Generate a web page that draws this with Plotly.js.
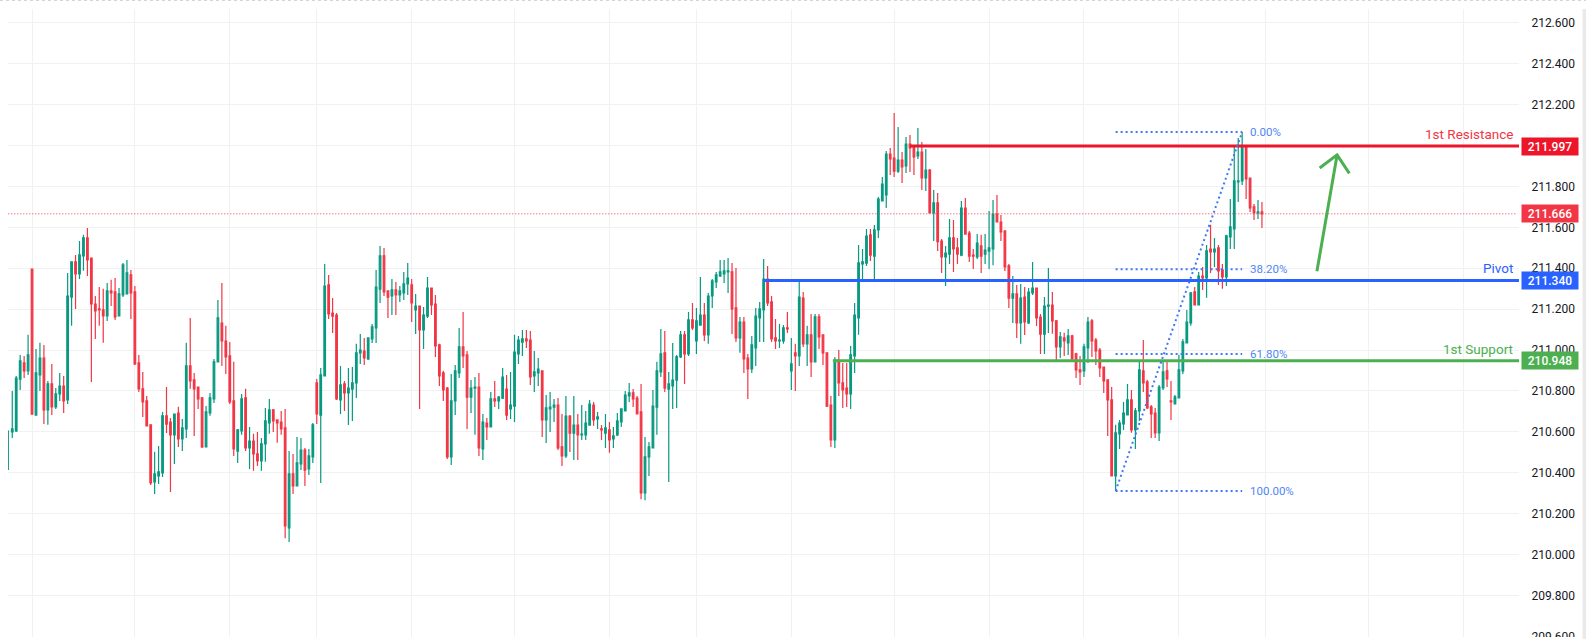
<!DOCTYPE html>
<html><head><meta charset="utf-8">
<script src="https://cdn.plot.ly/plotly-3.0.1.min.js"></script>
<style>html,body{margin:0;padding:0;background:#fff;overflow:hidden}#c{width:1586px;height:639px}</style>
</head><body><div id="c"></div>
<script>
// candle direction: G = up, R = down (rows of 10)
const direction = (
"GGGGRGRGGR"+"GRGGRGGRGG"+"RRRRRGRRGG"+"GRRRRRRGGG"+"RRGRGGRRRR"+"GGGGRRRRGG"+"RGRRGGGRRR"+"RGRGGRGGRG"+
"GRRRGRGGGG"+"RGGGGRRGRG"+"GGRGRGGRRR"+"RRGGGRRGGR"+"GRGRGGRGGG"+"GRRGGRGGGR"+"RGRGRGGGRG"+"RGRGGGGGRR"+
"RGGGGGRGGG"+"GRGRGGRGGG"+"GGGRRGRRGG"+"GGRRRGGRGR"+"GRGRGRRRRG"+"RRRGGGGGRG"+"GGGRRGRGRR"+"GRGRGRRGGR"+
"RGRRRGRGGG"+"RRRRGRGRGG"+"RRGGRRGRGR"+"RRGGRRRRRR"+"GGGGRGGRRR"+"RGGRRGGGGG"+"RGRGRGRRGG"+"GGGRRRGR").split("");

const high = [
210.604,210.800,210.873,210.976,210.971,211.074,211.396,211.005,211.035,211.025,
210.849,210.932,210.814,210.888,210.873,211.377,211.431,211.465,211.533,211.563,
211.597,211.450,211.264,211.308,211.299,211.328,211.343,211.352,211.303,211.426,
211.440,211.391,211.313,210.976,210.893,210.775,210.634,210.502,210.531,210.697,
210.819,210.668,210.687,210.722,210.663,211.035,211.157,210.888,210.819,210.770,
210.726,210.790,210.956,211.245,211.328,211.118,211.039,210.942,210.614,210.785,
210.810,210.624,210.590,210.599,210.570,210.717,210.761,210.712,210.658,210.702,
210.712,210.506,210.492,210.575,210.570,210.521,210.516,210.643,210.858,210.912,
211.421,211.367,211.254,211.181,210.922,210.849,210.912,210.917,211.030,211.078,
211.059,211.059,211.127,211.391,211.509,211.499,211.289,211.347,211.333,211.313,
211.382,211.426,211.347,211.274,211.215,211.210,211.357,211.303,211.269,211.030,
210.898,210.819,210.883,210.927,211.108,211.186,210.995,210.853,210.868,210.888,
210.687,210.668,210.795,210.849,210.775,210.912,210.878,210.893,211.074,211.069,
211.098,211.098,211.093,210.995,210.961,210.898,210.780,210.795,210.761,210.765,
210.687,210.775,210.682,210.775,210.687,210.731,210.702,210.756,210.746,210.697,
210.633,210.687,210.648,210.624,210.692,210.712,210.800,210.839,210.809,210.775,
210.834,210.575,210.550,210.805,210.942,211.103,211.093,210.893,211.034,210.976,
211.093,211.093,211.186,211.230,211.206,211.357,211.230,211.279,211.347,211.382,
211.440,211.440,211.450,211.426,211.401,211.162,211.162,210.981,211.069,211.206,
211.235,211.445,211.411,211.264,211.152,211.127,211.122,211.186,211.059,211.030,
211.342,211.284,211.118,211.176,211.176,211.176,211.074,210.986,210.775,210.966,
211.000,210.937,210.937,211.020,211.230,211.514,211.494,211.592,211.592,211.611,
211.748,211.846,211.973,211.988,212.159,212.091,211.968,212.042,212.051,212.002,
212.085,212.017,211.983,211.885,211.782,211.768,211.543,211.509,211.640,211.636,
211.548,211.729,211.743,211.582,211.494,211.567,211.563,211.567,211.680,211.734,
211.758,211.660,211.587,211.420,211.362,211.318,211.323,211.308,211.303,211.430,
211.303,211.176,211.259,211.401,211.284,211.147,211.088,211.084,211.103,211.074,
210.986,210.971,211.030,211.162,211.152,211.059,211.010,210.917,210.854,210.819,
210.634,210.658,210.746,210.834,210.805,210.717,210.951,211.049,210.854,210.731,
210.717,210.829,210.951,210.951,210.849,210.780,210.976,211.054,211.196,211.284,
211.308,211.382,211.406,211.514,211.612,211.548,211.514,211.421,211.563,211.739,
212.003,212.037,212.066,211.993,211.841,211.714,211.734,211.724];

const bodyTop = [
210.604,210.614,210.863,210.947,210.937,210.976,211.396,210.888,210.961,210.961,
210.834,210.834,210.785,210.824,210.824,211.264,211.431,211.431,211.465,211.548,
211.548,211.450,211.225,211.201,211.196,211.289,211.289,211.284,211.274,211.416,
211.377,211.367,211.284,210.937,210.810,210.751,210.634,210.394,210.404,210.678,
210.678,210.648,210.687,210.692,210.619,210.922,210.922,210.854,210.819,210.766,
210.697,210.766,210.942,211.157,211.132,211.044,210.971,210.751,210.609,210.761,
210.766,210.555,210.555,210.492,210.541,210.653,210.707,210.707,210.658,210.648,
210.619,210.394,210.394,210.448,210.511,210.511,210.482,210.634,210.839,210.878,
211.313,211.318,211.181,211.171,210.829,210.834,210.814,210.839,210.986,211.000,
210.995,211.059,211.113,211.308,211.460,211.460,211.289,211.294,211.294,211.289,
211.323,211.352,211.318,211.215,211.215,211.171,211.303,211.303,211.225,211.025,
210.888,210.814,210.751,210.898,211.015,211.015,210.976,210.814,210.819,210.819,
210.648,210.643,210.761,210.761,210.770,210.868,210.809,210.731,210.990,211.049,
211.054,211.054,211.049,210.893,210.907,210.898,210.717,210.721,210.731,210.731,
210.526,210.677,210.677,210.633,210.633,210.589,210.643,210.736,210.731,210.673,
210.614,210.619,210.609,210.580,210.653,210.712,210.780,210.790,210.790,210.765,
210.697,210.477,210.526,210.726,210.898,210.981,210.986,210.834,210.853,210.966,
211.074,211.074,211.147,211.147,211.142,211.171,211.171,211.264,211.338,211.367,
211.382,211.387,211.387,211.382,211.206,211.137,211.137,210.961,211.025,211.166,
211.201,211.347,211.347,211.235,211.059,211.049,211.108,211.108,210.932,210.986,
211.259,211.254,211.074,211.074,211.162,211.162,211.074,210.986,210.731,210.951,
210.951,210.839,210.814,210.976,211.171,211.426,211.431,211.557,211.563,211.587,
211.738,211.811,211.958,211.958,211.939,211.929,211.929,212.007,212.007,211.993,
211.968,211.968,211.880,211.880,211.719,211.719,211.533,211.474,211.548,211.548,
211.499,211.694,211.694,211.572,211.464,211.523,211.509,211.489,211.499,211.665,
211.665,211.626,211.582,211.411,211.274,211.274,211.254,211.259,211.283,211.303,
211.303,211.161,211.215,211.220,211.220,211.142,211.064,211.059,211.069,211.069,
210.981,210.903,211.015,211.137,211.142,211.049,211.000,210.917,210.854,210.756,
210.595,210.643,210.692,210.756,210.756,210.702,210.903,210.898,210.844,210.722,
210.692,210.819,210.893,210.898,210.751,210.771,210.903,211.040,211.137,211.279,
211.284,211.362,211.362,211.485,211.494,211.494,211.499,211.392,211.558,211.602,
211.827,211.827,211.993,211.993,211.841,211.700,211.675,211.675];

const bodyBottom = [
210.604,210.599,210.604,210.858,210.898,210.898,210.687,210.682,210.878,210.707,
210.707,210.722,210.722,210.785,210.751,210.756,211.259,211.372,211.372,211.460,
211.440,211.225,211.191,211.196,211.167,211.167,211.279,211.162,211.167,211.269,
211.274,211.279,210.932,210.810,210.746,210.629,210.350,210.355,210.384,210.399,
210.638,210.585,210.585,210.565,210.565,210.614,210.849,210.810,210.761,210.526,
210.526,210.692,210.761,210.942,211.044,210.966,210.746,210.516,210.506,210.604,
210.521,210.521,210.492,210.458,210.458,210.541,210.643,210.653,210.643,210.614,
210.140,210.130,210.335,210.335,210.443,210.413,210.418,210.477,210.687,210.682,
210.873,211.176,211.166,210.761,210.756,210.790,210.790,210.809,210.839,210.986,
210.961,210.956,211.054,211.108,211.298,211.284,211.259,211.264,211.269,211.269,
211.279,211.323,211.230,211.196,211.098,211.098,211.166,211.220,211.020,210.873,
210.805,210.477,210.477,210.751,210.888,210.971,210.770,210.770,210.814,210.521,
210.516,210.624,210.624,210.751,210.751,210.765,210.682,210.712,210.726,210.981,
211.039,211.044,210.868,210.873,210.888,210.658,210.658,210.712,210.721,210.521,
210.482,210.482,210.594,210.594,210.585,210.585,210.585,210.633,210.658,210.663,
210.609,210.594,210.560,210.565,210.585,210.648,210.702,210.775,210.761,210.687,
210.301,210.301,210.477,210.521,210.721,210.893,210.814,210.809,210.824,210.853,
210.966,210.981,210.981,211.108,211.044,211.122,211.074,211.074,211.264,211.333,
211.362,211.372,211.382,211.201,211.059,211.059,210.956,210.907,210.907,211.010,
211.157,211.196,211.230,211.054,211.044,211.044,211.044,211.103,210.898,210.971,
210.971,211.030,211.030,210.942,210.942,211.064,210.986,210.726,210.560,210.560,
210.839,210.805,210.785,210.785,210.971,211.157,211.421,211.425,211.464,211.459,
211.587,211.729,211.758,211.934,211.875,211.875,211.895,211.900,211.988,211.944,
211.949,211.841,211.841,211.670,211.670,211.530,211.455,211.455,211.469,211.494,
211.469,211.464,211.567,211.459,211.459,211.455,211.459,211.469,211.484,211.494,
211.626,211.577,211.406,211.254,211.254,211.132,211.132,211.137,211.132,211.279,
211.157,211.078,211.078,211.215,211.142,211.015,211.015,211.044,211.035,210.956,
210.903,210.893,210.898,211.010,211.044,210.996,210.912,210.849,210.756,210.384,
210.384,210.590,210.639,210.683,210.609,210.609,210.702,210.839,210.717,210.687,
210.595,210.595,210.815,210.859,210.746,210.736,210.766,210.898,211.035,211.132,
211.220,211.220,211.352,211.352,211.480,211.480,211.387,211.357,211.357,211.553,
211.592,211.822,211.827,211.837,211.695,211.670,211.670,211.666];

const low = [
210.413,210.570,210.599,210.805,210.863,210.878,210.682,210.682,210.800,210.638,
210.634,210.682,210.712,210.751,210.692,210.736,211.118,211.201,211.347,211.387,
211.362,210.844,211.054,211.118,211.035,211.142,211.215,211.147,211.167,211.259,
211.274,211.152,210.927,210.795,210.673,210.629,210.340,210.296,210.345,210.379,
210.594,210.306,210.443,210.526,210.506,210.570,210.810,210.580,210.712,210.521,
210.526,210.678,210.741,210.942,210.922,210.883,210.736,210.482,210.448,210.585,
210.506,210.418,210.409,210.433,210.409,210.453,210.590,210.599,210.546,210.585,
210.080,210.061,210.296,210.335,210.413,210.335,210.389,210.448,210.638,210.350,
210.873,211.152,211.083,210.756,210.687,210.702,210.633,210.653,210.765,210.932,
210.927,210.951,211.034,211.034,211.230,211.264,211.157,211.171,211.171,211.235,
211.245,211.269,211.137,211.078,210.712,211.005,211.157,211.171,210.966,210.824,
210.751,210.467,210.438,210.682,210.863,210.912,210.614,210.692,210.585,210.482,
210.462,210.560,210.624,210.721,210.712,210.761,210.658,210.663,210.648,210.932,
210.971,211.010,210.829,210.795,210.824,210.575,210.545,210.599,210.648,210.511,
210.433,210.472,210.501,210.462,210.462,210.560,210.560,210.629,210.629,210.614,
210.560,210.521,210.497,210.521,210.580,210.624,210.702,210.746,210.721,210.687,
210.270,210.265,210.384,210.521,210.585,210.868,210.795,210.355,210.712,210.717,
210.961,210.834,210.971,211.098,210.981,211.118,211.044,211.030,211.206,211.303,
211.357,211.328,211.279,211.078,211.039,210.986,210.888,210.761,210.888,210.922,
211.039,211.039,211.215,211.039,211.005,211.010,211.030,211.083,210.805,210.800,
210.922,211.015,210.922,210.868,210.942,211.005,210.927,210.721,210.526,210.521,
210.775,210.717,210.721,210.712,210.888,211.074,211.338,211.411,211.435,211.342,
211.548,211.729,211.694,211.856,211.846,211.866,211.817,211.866,211.870,211.856,
211.934,211.782,211.777,211.670,211.533,211.484,211.377,211.313,211.420,211.381,
211.420,211.459,211.567,211.430,211.396,211.445,211.377,211.420,211.396,211.415,
211.626,211.533,211.386,211.205,211.132,211.059,211.030,211.073,211.127,211.269,
211.117,210.980,210.980,211.083,211.079,210.942,210.961,210.971,210.976,210.951,
210.863,210.829,210.868,210.937,210.966,210.927,210.868,210.790,210.580,210.384,
210.311,210.516,210.609,210.683,210.595,210.516,210.653,210.795,210.712,210.570,
210.570,210.555,210.805,210.819,210.658,210.736,210.766,210.883,211.035,211.118,
211.220,211.220,211.294,211.255,211.377,211.406,211.318,211.299,211.313,211.494,
211.494,211.724,211.807,211.739,211.675,211.636,211.641,211.597];

const barIndex = high.map((_, i) => i);
const openPrice  = direction.map((d, i) => d === "G" ? bodyBottom[i] : bodyTop[i]);
const closePrice = direction.map((d, i) => d === "G" ? bodyTop[i] : bodyBottom[i]);

const resistance = 211.997, pivot = 211.340, support = 210.948, lastPrice = 211.666;
const resistanceStart = 228, pivotStart = 191, supportStart = 208.5, xEnd = 382;
const fibStart = 280, fibEnd = 312, fibLabelBar = 313.8;
const fibLow = 210.311, fibHigh = 212.066;
const fibLevels = [212.066, 211.395, 210.981, 210.311];
const fibLabels = ["0.00%", "38.20%", "61.80%", "100.00%"];
const arrowX = [330.9, 336.0, 331.6, 336.0, 339.1];
const arrowY = [211.385, 211.954, 211.890, 211.954, 211.864];
const gridBars = [6,32,56,78,102,128,152,174,198,224,248,272,296,318,344,368];
const priceTicks = [209.6,209.8,210,210.2,210.4,210.6,210.8,211,211.2,211.4,211.6,211.8,212,212.2,212.4,212.6];

const RED="#f23645", GREEN="#089981", LRED="#ec1529", BLUE="#2962ff", LGREEN="#4caf50", FIB="#3f78f5", GRID="#f0f1f3";
const FONT="Roboto, Arial, sans-serif";

function lvl(x0, y, color){
  return {type:"scatter",mode:"lines",x:[x0,xEnd],y:[y,y],line:{color:color,width:3},hoverinfo:"skip"};
}
const data = [
 {type:"candlestick",x:barIndex,open:openPrice,high:high,low:low,close:closePrice,
  increasing:{line:{color:GREEN,width:1.2},fillcolor:GREEN},
  decreasing:{line:{color:RED,width:1.2},fillcolor:RED},
  whiskerwidth:0,hoverinfo:"skip"},
 {type:"scatter",mode:"lines",x:[0,xEnd-0.5],y:[lastPrice,lastPrice],line:{color:RED,width:1,dash:"1px,2px"},hoverinfo:"skip"},
 lvl(resistanceStart,resistance,LRED),
 lvl(pivotStart,pivot,BLUE),
 lvl(supportStart,support,LGREEN)
];
fibLevels.forEach(v=>data.push({type:"scatter",mode:"lines",x:[fibStart,fibEnd],y:[v,v],
  line:{color:FIB,width:2,dash:"2px,3px"},hoverinfo:"skip"}));
data.push({type:"scatter",mode:"lines",x:[fibStart,fibEnd],y:[fibLow,fibHigh],
  line:{color:FIB,width:2,dash:"2px,3px"},hoverinfo:"skip"});
data.push({type:"scatter",mode:"lines",x:arrowX,y:arrowY,line:{color:LGREEN,width:3},hoverinfo:"skip"});

function tag(v,color){
  return {xref:"paper",x:1,xanchor:"left",xshift:2,yref:"y",y:v,yanchor:"middle",showarrow:false,
    text:v.toFixed(3),width:56,height:17,bgcolor:color,align:"center",valign:"middle",borderpad:0,
    font:{family:FONT,size:12,color:"#fff",weight:500}};
}
function lab(txt,v,color){
  return {xref:"paper",x:1,xanchor:"right",xshift:-5,yref:"y",y:v,yanchor:"bottom",yshift:3,showarrow:false,
    text:txt,font:{family:FONT,size:13.5,color:color},borderpad:0};
}
const annotations=[
 tag(resistance,LRED),tag(lastPrice,RED),tag(pivot,BLUE),tag(support,LGREEN),
 lab("1st Resistance",resistance,RED),lab("Pivot",pivot,BLUE),lab("1st Support",support,LGREEN)
];
fibLevels.forEach((v,k)=>annotations.push({xref:"x",x:fibLabelBar,xanchor:"left",yref:"y",y:v,yanchor:"middle",
  showarrow:false,text:fibLabels[k],font:{family:FONT,size:11.5,color:"#4f86f7"},borderpad:0}));

const layout={
 width:1586,height:639,paper_bgcolor:"#fff",plot_bgcolor:"#fff",showlegend:false,hovermode:false,
 margin:{l:8,r:67,t:9,b:2,pad:0},
 boxgap:0.42,
 xaxis:{type:"linear",range:[-0.08,xEnd],rangeslider:{visible:false},tickmode:"array",tickvals:gridBars,
   showticklabels:false,ticks:"",showgrid:true,gridcolor:GRID,gridwidth:1,zeroline:false,showline:false},
 yaxis:{side:"right",range:[209.5966,212.6675],tickmode:"array",tickvals:priceTicks,
   ticktext:priceTicks.map(v=>v.toFixed(3)),tickfont:{family:FONT,size:12,color:"#131722"},ticklabeloverflow:"allow",
   ticks:"outside",ticklen:9,tickcolor:"rgba(0,0,0,0)",showgrid:true,gridcolor:GRID,gridwidth:1,zeroline:false,showline:false},
 annotations:annotations,
 shapes:[
  {type:"rect",layer:"above",xref:"paper",yref:"paper",x0:1.0421,x1:1.0443,y0:-0.0032,y1:1,fillcolor:"#e9e9e9",line:{width:0}},
  {type:"line",layer:"above",xref:"paper",yref:"paper",x0:-0.0053,x1:1.0443,y0:1.0135,y1:1.0135,line:{color:"#d4d4d4",width:1,dash:"dot"}},
  {type:"rect",layer:"above",xref:"paper",yref:"paper",x0:1,x1:1.042,y0:-0.0032,y1:0,fillcolor:"#fff",line:{width:0}}
 ]
};
Plotly.newPlot("c",data,layout,{displayModeBar:false,staticPlot:true});
</script></body></html>
